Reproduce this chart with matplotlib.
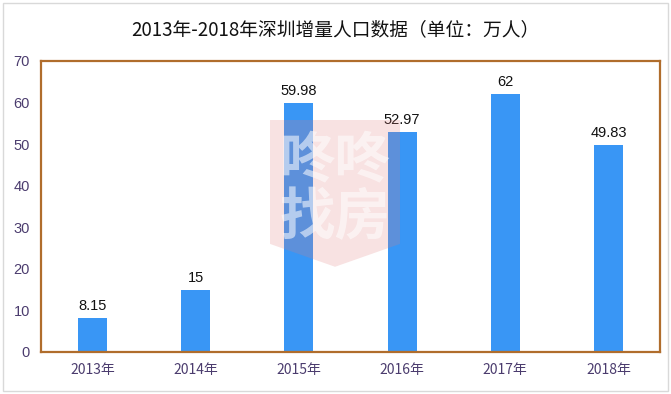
import matplotlib
matplotlib.use("Agg")
import matplotlib.pyplot as plt
from matplotlib.patches import Rectangle, Polygon

plt.rcParams['font.family'] = ['Noto Sans CJK SC', 'DejaVu Sans']

categories = ['2013年', '2014年', '2015年', '2016年', '2017年', '2018年']
values = [8.15, 15, 59.98, 52.97, 62, 49.83]
value_labels = ['8.15', '15', '59.98', '52.97', '62', '49.83']
yticks = [0, 10, 20, 30, 40, 50, 60, 70]
title = '2013年-2018年深圳增量人口数据（单位：万人）'

fig = plt.figure(figsize=(6.71, 3.94), dpi=100)
fig.patch.set_facecolor('white')
fig.patches.append(Rectangle((0.004, 0.008), 0.992, 0.984, transform=fig.transFigure,
                             fill=False, edgecolor='#d9d9d9', linewidth=1.0))

ax = fig.add_axes([0.0611, 0.1066, 0.9225, 0.7386])
x = list(range(len(categories)))
ax.bar(x, values, width=0.28, color='#3996f5', zorder=2)
for xi, v, lab in zip(x, values, value_labels):
    ax.text(xi, v + 1.2, lab, ha='center', va='bottom', fontsize=10.5, color='#111111',
            family=['Liberation Sans', 'DejaVu Sans'])

ax.set_xlim(-0.5, len(categories) - 0.5)
ax.set_ylim(0, 70)
ax.set_yticks(yticks)
ax.set_yticklabels([str(t) for t in yticks], fontsize=10.5, color='#4b3c6e',
                   family=['Liberation Sans', 'DejaVu Sans'])
ax.set_xticks(x)
ax.set_xticklabels(categories, fontsize=10, color='#4b3c6e', fontweight='medium')
ax.tick_params(length=0, pad=8)
for s in ax.spines.values():
    s.set_color('#b06d2c')
    s.set_linewidth(1.6)

# watermark
shield = Polygon([(1.72, 55.8), (2.98, 55.8), (2.98, 26), (2.35, 20.5), (1.72, 26)],
                 closed=True, facecolor='#e07b7b', alpha=0.22, edgecolor='none', zorder=3)
ax.add_patch(shield)
ax.text(2.35, 39, '咚咚\n找房', ha='center', va='center', fontsize=40, color='white',
        alpha=0.55, fontweight='bold', linespacing=1.0, zorder=4)

fig.text(0.5, 0.925, title, ha='center', va='center', fontsize=13.5, color='#111111',
         fontweight='medium')

fig.savefig('out.png', dpi=100)
